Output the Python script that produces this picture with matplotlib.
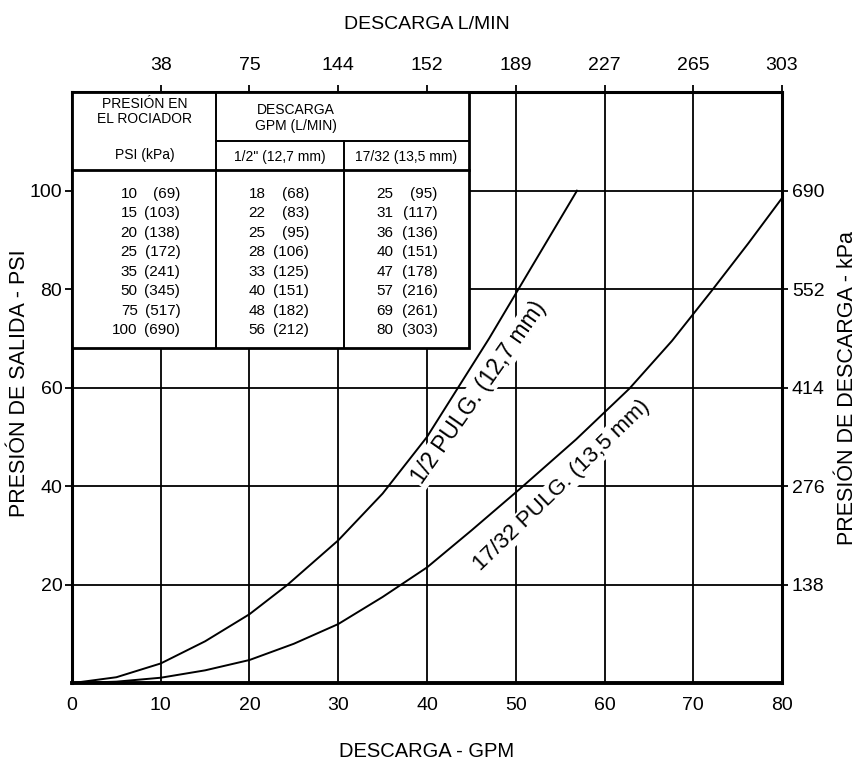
import matplotlib
matplotlib.use('Agg')
import matplotlib.pyplot as plt
from matplotlib.patches import Rectangle

plt.rcParams['font.family'] = ['Liberation Sans', 'DejaVu Sans']

# table data
psi = [10, 15, 20, 25, 35, 50, 75, 100]
kpa = [69, 103, 138, 172, 241, 345, 517, 690]
gpm_half = [18, 22, 25, 28, 33, 40, 48, 56]
lpm_half = [68, 83, 95, 106, 125, 151, 182, 212]
gpm_1732 = [25, 31, 36, 40, 47, 57, 69, 80]
lpm_1732 = [95, 117, 136, 151, 178, 216, 261, 303]

# curves, points
half_q = [0, 5, 10, 15, 20, 24.3, 30, 35, 40, 43.5, 47, 50.3, 53.6, 56.9]
half_p = [0, 1.2, 4, 8.5, 14, 20, 29, 38.5, 50, 60, 70, 80, 90, 100]
s1732_q = [0, 5, 10, 15, 20, 25, 30, 35, 40, 45, 50.5, 56.8, 62.8, 67.6, 72, 76.2, 80]
s1732_p = [0, 0.3, 1.1, 2.6, 4.7, 8, 12, 17.5, 23.5, 31, 39.5, 49.5, 59.8, 69.5, 79.5, 89.3, 98.5]

# axis ticks
gpm_ticks = [0, 10, 20, 30, 40, 50, 60, 70, 80]
lpm_ticks = [10, 20, 30, 40, 50, 60, 70, 80]
lpm_labels = ['38', '75', '144', '152', '189', '227', '265', '303']
psi_ticks = [20, 40, 60, 80, 100]
kpa_labels = ['138', '276', '414', '552', '690']

fig = plt.figure(figsize=(8.57, 7.65), dpi=100)
ax = fig.add_axes([0.084, 0.107, 0.8285, 0.7725])
ax.set_xlim(0, 80)
ax.set_ylim(0, 120)

ax.set_xticks(gpm_ticks)
ax.set_yticks(psi_ticks)
ax.grid(True, color='black', lw=1.3)
ax.set_axisbelow(True)
ax.tick_params(axis='both', labelsize=14)
ax.tick_params(axis='x', length=0, pad=10)
ax.tick_params(axis='y', length=5, width=1.3, pad=2)
for s in ax.spines.values():
    s.set_linewidth(2.2)
ax.spines['bottom'].set_linewidth(2.8)

ax.plot(half_q, half_p, color='black', lw=1.4, zorder=2)
ax.plot(s1732_q, s1732_p, color='black', lw=1.4, zorder=2)

ax.text(45.8, 59.0, '1/2 PULG. (12,7 mm)', rotation=55, rotation_mode='anchor',
        ha='center', va='center', fontsize=16.5, zorder=4,
        bbox=dict(facecolor='white', edgecolor='none', pad=1))
ax.text(55.2, 40.2, '17/32 PULG. (13,5 mm)', rotation=44, rotation_mode='anchor',
        ha='center', va='center', fontsize=16, zorder=4,
        bbox=dict(facecolor='white', edgecolor='none', pad=1))

ax.set_xlabel('DESCARGA - GPM', fontsize=14.5, labelpad=20)
ax.set_ylabel('PRESIÓN DE SALIDA - PSI', fontsize=15.5)
ax.yaxis.set_label_coords(-0.059, 0.508)

top = ax.twiny()
top.set_xlim(0, 80)
top.set_xticks(lpm_ticks)
top.set_xticklabels(lpm_labels)
top.tick_params(axis='x', direction='out', length=5, width=1.3, labelsize=14, pad=8)
top.set_xlabel('DESCARGA L/MIN', fontsize=14, labelpad=20)

right = ax.twinx()
right.set_ylim(0, 120)
right.set_yticks(psi_ticks)
right.set_yticklabels(kpa_labels)
right.tick_params(axis='y', direction='out', length=4, width=1.3, labelsize=14, pad=3)
right.set_ylabel('PRESIÓN DE DESCARGA - kPa', fontsize=15.5)
right.yaxis.set_label_coords(1.077, 0.5)

# table box
x0, x1, x2, x3 = 0, 16.2, 30.6, 44.7
y_bot, y_top = 68.0, 120
ax.add_patch(Rectangle((x0, y_bot), x3 - x0, y_top - y_bot, facecolor='white',
                       edgecolor='black', lw=2.0, zorder=3))
ax.plot([x1, x1], [y_bot, y_top], color='black', lw=1.4, zorder=3.5)
ax.plot([x2, x2], [y_bot, 110.1], color='black', lw=1.4, zorder=3.5)
ax.plot([x1, x3], [110.1, 110.1], color='black', lw=1.4, zorder=3.5)
ax.plot([x0, x3], [104.1, 104.1], color='black', lw=2.0, zorder=3.5)

ax.text(8.2, 116.0, 'PRESIÓN EN\nEL ROCIADOR', ha='center', va='center',
        fontsize=10, linespacing=1.1, zorder=4)
ax.text(8.2, 107.3, 'PSI (kPa)', ha='center', va='center', fontsize=10, zorder=4)
ax.text(25.2, 114.8, 'DESCARGA\nGPM (L/MIN)', ha='center', va='center',
        fontsize=10, linespacing=1.2, zorder=4)
ax.text(23.4, 106.8, '1/2" (12,7 mm)', ha='center', va='center', fontsize=10, zorder=4)
ax.text(37.6, 106.8, '17/32 (13,5 mm)', ha='center', va='center', fontsize=10, zorder=4)

cols = [(psi, kpa, 7.4, 12.2), (gpm_half, lpm_half, 21.8, 26.7), (gpm_1732, lpm_1732, 36.2, 41.2)]
for i in range(len(psi)):
    yy = 99.4 - 3.97 * i
    for (a, b, xa, xb) in cols:
        ax.text(xa, yy, str(a[i]), ha='right', va='center', fontsize=11, zorder=4)
        ax.text(xb, yy, f'({b[i]})', ha='right', va='center', fontsize=11, zorder=4)

fig.savefig('out.png', dpi=100)
